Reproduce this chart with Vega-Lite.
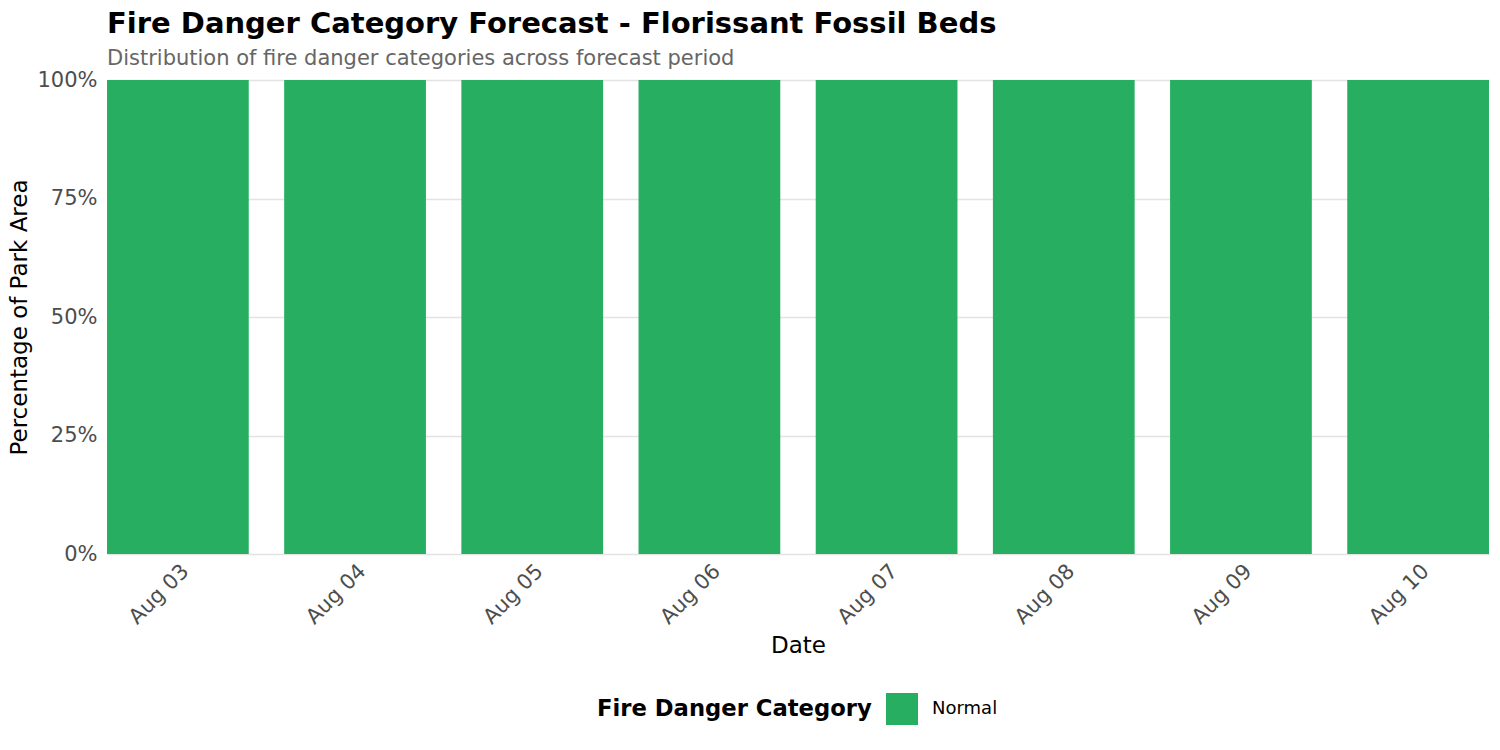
{
  "$schema": "https://vega.github.io/schema/vega-lite/v6.json",
  "width": 1382,
  "height": 474,
  "autosize": {"type": "none"},
  "padding": {"left": 107, "top": 80, "right": 11, "bottom": 196},
  "background": "white",
  "title": {
    "text": "Fire Danger Category Forecast - Florissant Fossil Beds",
    "subtitle": "Distribution of fire danger categories across forecast period",
    "anchor": "start",
    "frame": "group",
    "font": "DejaVu Sans",
    "fontSize": 29,
    "fontWeight": "bold",
    "color": "black",
    "subtitleFont": "DejaVu Sans",
    "subtitleFontSize": 21,
    "subtitleColor": "#666666",
    "subtitlePadding": 9,
    "offset": 0
  },
  "data": {
    "values": [
      {"date": "Aug 03", "category": "Normal", "share": 1},
      {"date": "Aug 04", "category": "Normal", "share": 1},
      {"date": "Aug 05", "category": "Normal", "share": 1},
      {"date": "Aug 06", "category": "Normal", "share": 1},
      {"date": "Aug 07", "category": "Normal", "share": 1},
      {"date": "Aug 08", "category": "Normal", "share": 1},
      {"date": "Aug 09", "category": "Normal", "share": 1},
      {"date": "Aug 10", "category": "Normal", "share": 1}
    ]
  },
  "mark": {"type": "bar"},
  "encoding": {
    "x": {
      "field": "date",
      "type": "nominal",
      "sort": null,
      "title": "Date",
      "scale": {"paddingInner": 0.2, "paddingOuter": 0},
      "axis": {
        "labelAngle": -45,
        "labelFontSize": 21,
        "labelColor": "#4d4d4d",
        "labelPadding": 6,
        "ticks": false,
        "domain": false,
        "titleFontSize": 23,
        "titleFontWeight": "normal",
        "titleColor": "black",
        "titlePadding": 7
      }
    },
    "y": {
      "field": "share",
      "type": "quantitative",
      "stack": "zero",
      "title": "Percentage of Park Area",
      "scale": {"domain": [0, 1], "nice": false},
      "axis": {
        "values": [0, 0.25, 0.5, 0.75, 1],
        "format": ".0%",
        "labelFontSize": 21,
        "labelColor": "#4d4d4d",
        "labelPadding": 10,
        "ticks": false,
        "domain": false,
        "grid": true,
        "gridColor": "#e3e3e3",
        "gridWidth": 1.5,
        "titleFontSize": 23,
        "titleFontWeight": "normal",
        "titleColor": "black",
        "titlePadding": 5
      }
    },
    "color": {
      "field": "category",
      "type": "nominal",
      "title": "Fire Danger Category",
      "scale": {"domain": ["Normal"], "range": ["#27ae60"]},
      "legend": {
        "orient": "none",
        "legendX": 490,
        "legendY": 613,
        "direction": "horizontal",
        "titleOrient": "left",
        "titleFontSize": 22.7,
        "titleFontWeight": "bold",
        "titleColor": "black",
        "titlePadding": 14,
        "titleLimit": 500,
        "titleBaseline": "middle",
        "symbolType": "square",
        "symbolSize": 1024,
        "symbolStrokeWidth": 0,
        "symbolOpacity": 1,
        "labelFontSize": 18,
        "labelColor": "black",
        "labelOffset": 14
      }
    }
  },
  "config": {
    "font": "DejaVu Sans",
    "view": {"stroke": null}
  }
}
